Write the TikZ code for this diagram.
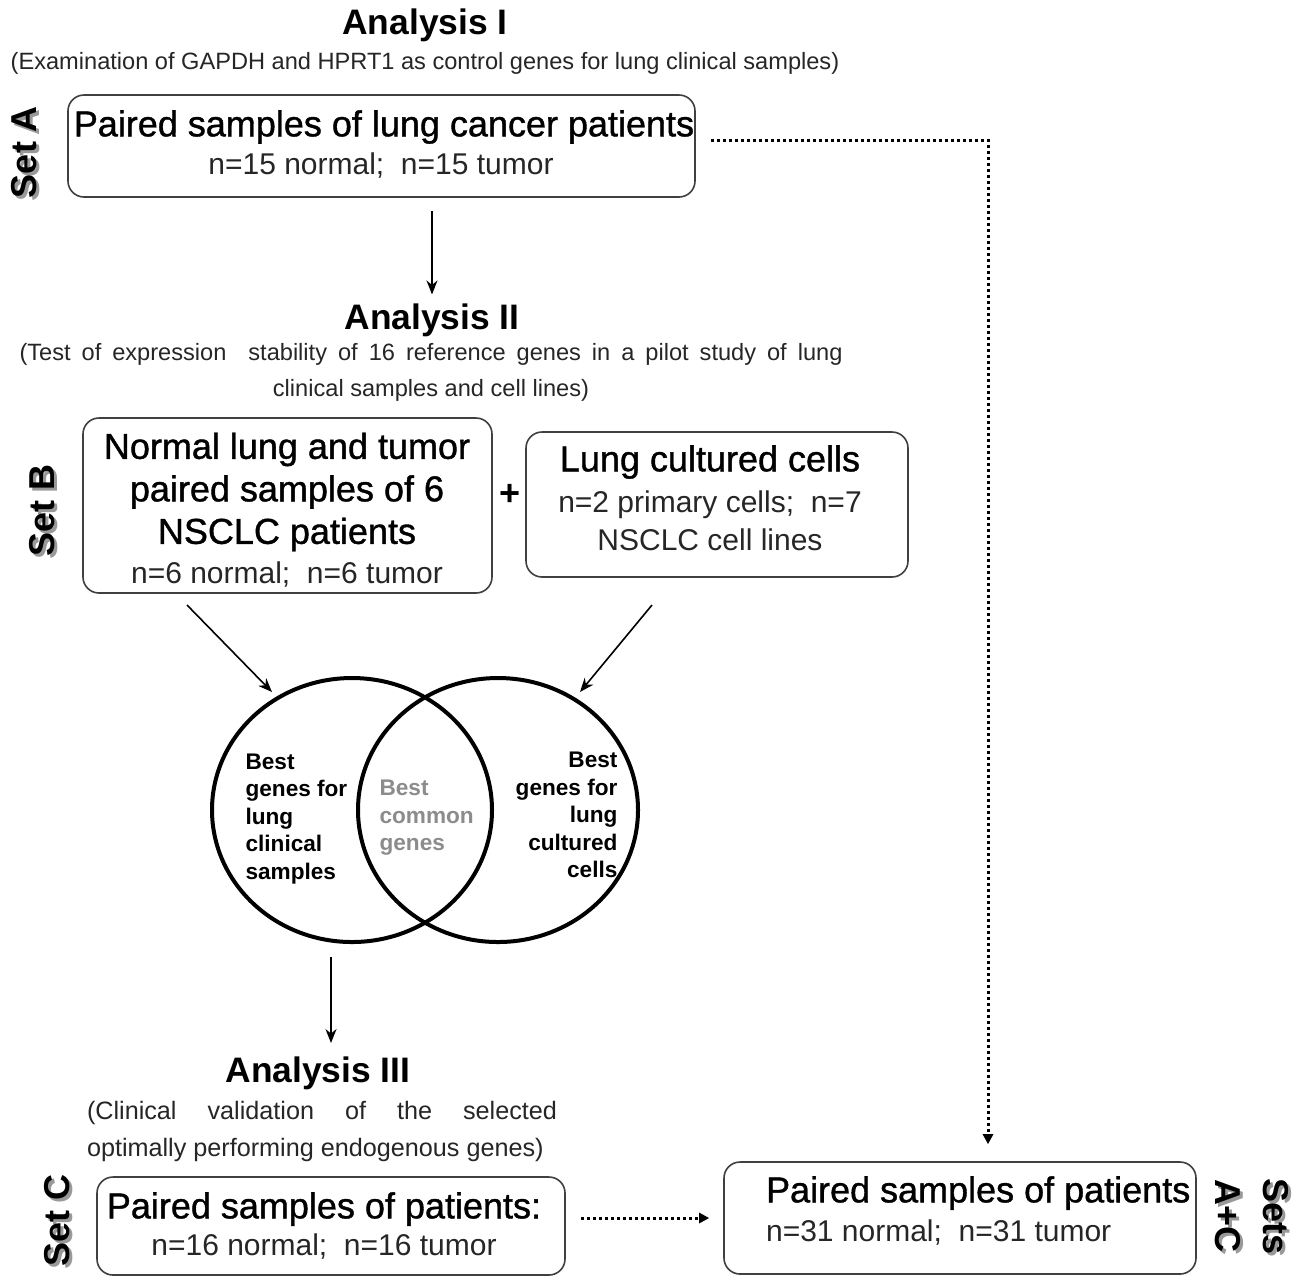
\documentclass[tikz,border=0pt]{standalone}
\usepackage{fontspec}
\setmainfont{Liberation Sans}
\newfontfamily\medfont[FakeBold=1.1]{Liberation Sans}
\usetikzlibrary{shapes.geometric,arrows.meta,positioning}

\tikzset{
  box/.style={draw=black!75, line width=0.8pt, rounded corners=8pt},
  anl/.style={font=\fontsize{17.7}{20}\selectfont\bfseries},
  expl/.style={font=\fontsize{11.8}{18}\selectfont, text=black!85},
  big/.style={font=\fontsize{18}{21.25}\selectfont\medfont, align=center},
  num/.style={font=\fontsize{15}{19}\selectfont, text=black!85, align=center},
  venn/.style={draw, ellipse, line width=2pt, minimum width=140pt, minimum height=132pt},
  vtxt/.style={font=\fontsize{11.3}{13.75}\selectfont\bfseries},
  setlbl/.style={font=\fontsize{18}{24}\selectfont\bfseries, rotate=90, align=center},
  arr/.style={-{Stealth[length=7pt,width=5.5pt]}, line width=0.8pt},
  dots/.style={line width=1.5pt, dash pattern=on 1.5pt off 1.5pt, -{Triangle[length=5pt,width=5pt]}}
}

\begin{document}
\begin{tikzpicture}[x=0.5pt, y=-0.5pt]

  \useasboundingbox[fill=white] (0,0) rectangle (1304,1276);

  % Analysis I
  \node[anl]  (ana1)     at (425,25)  {Analysis I}; %
  \node[expl] (ana1-txt) at (425,63)  {(Examination of GAPDH and HPRT1 as control genes for lung clinical samples)}; %

  \node[box, minimum width=313.5pt, minimum height=51pt] (boxA) at (381.5,146) {}; %
  \node[big] (boxA-t) at (384,127) {Paired samples of lung cancer patients}; %
  \node[num] (boxA-n) at (381,166) {n=15 normal;\ \ n=15 tumor}; %

  % Analysis II
  \node[anl]  (ana2)     at (432,320) {Analysis II}; %
  \node[expl, align=center] (ana2-txt) at (431,372)
    {\makebox[411.5pt][s]{(Test of expression\ \ stability of 16 reference genes in a pilot study of lung}\\clinical samples and cell lines)}; %

  \node[box, minimum width=204.5pt, minimum height=87.5pt] (boxB1) at (287.5,505.5) {}; %
  \node[big] (boxB1-t) at (287,492) {Normal lung and tumor\\paired samples of 6\\NSCLC patients}; %
  \node[num] (boxB1-n) at (287,575) {n=6 normal;\ \ n=6 tumor}; %

  \node[font=\fontsize{18}{20}\selectfont\bfseries] (plus) at (510,495) {+}; %

  \node[box, minimum width=191pt, minimum height=72.5pt] (boxB2) at (717,504.5) {}; %
  \node[big] (boxB2-t) at (710,462) {Lung cultured cells}; %
  \node[num] (boxB2-n) at (710,521) {n=2 primary cells;\ \ n=7\\NSCLC cell lines}; %

  % Venn
  \node[venn] (vl) at (352,810) {}; %
  \node[venn] (vr) at (498,810) {}; %
  \node[vtxt, align=left, anchor=west]  (vl-t) at (238.5,819) {Best\\genes for\\lung\\clinical\\samples}; %
  \node[vtxt, align=left, anchor=west, text=black!45] (vc-t) at (372.5,818) {Best\\common\\genes}; %
  \node[vtxt, align=right, anchor=east] (vr-t) at (624.5,815) {Best\\genes for\\lung\\cultured\\cells}; %

  % Analysis III
  \node[anl]  (ana3)     at (318,1073) {Analysis III}; %
  \node[expl, font=\fontsize{12.6}{18.5}\selectfont, text width=235pt, align=justify] (ana3-txt) at (322,1131)
    {(Clinical validation of the selected\linebreak optimally performing endogenous genes)}; %

  \node[box, minimum width=234pt, minimum height=49pt] (boxC) at (331,1226) {}; %
  \node[big] (boxC-t) at (324,1209) {Paired samples of patients:}; %
  \node[num] (boxC-n) at (324,1247) {n=16 normal;\ \ n=16 tumor}; %

  \node[box, minimum width=236pt, minimum height=56pt] (boxAC) at (960,1218) {}; %
  \node[big, anchor=west] (boxAC-t) at (759,1193) {Paired samples of patients}; %
  \node[num, anchor=west] (boxAC-n) at (759,1233) {n=31 normal;\ \ n=31 tumor}; %

  % Sets
  \node[setlbl, text=black!40] (setA-s) at (27,155)  {Set A}; %
  \node[setlbl]                (setA)   at (24,152)  {Set A}; %
  \node[setlbl, text=black!40] (setB-s) at (45,513)  {Set B}; %
  \node[setlbl]                (setB)   at (42,510)  {Set B}; %
  \node[setlbl, text=black!40] (setC-s) at (60,1223) {Set C}; %
  \node[setlbl]                (setC)   at (57,1220) {Set C}; %
  \node[setlbl, rotate=180, text=black!40] (setAC-s) at (1255,1219) {Sets\\A+C}; %
  \node[setlbl, rotate=180]                (setAC)   at (1252,1216) {Sets\\A+C}; %

  % arrows
  \coordinate (b1o) at (187,605); %
  \coordinate (b1i) at (272,692); %
  \coordinate (b2o) at (652,605); %
  \coordinate (b2i) at (580,692); %
  \coordinate (v3o) at (331,957); %
  \coordinate (v3i) at (331,1043); %
  \coordinate (dA)  at (988,140); %
  \coordinate (dC)  at (640,1218); %

  \draw[arr, shorten <=6.5pt, shorten >=1pt] (ana2.north |- boxA.south) -- (ana2.north); %
  \draw[arr] (b1o) -- (b1i); %
  \draw[arr] (b2o) -- (b2i); %
  \draw[arr] (v3o) -- (v3i); %

  \draw[dots, shorten <=7.5pt, shorten >=8.5pt] (boxA.east |- dA) -- (dA) -- (dA |- boxAC.north); %
  \draw[dots, shorten <=7.5pt, shorten >=7pt] (boxC.east |- dC) -- (boxAC.west |- dC); %

\end{tikzpicture}
\end{document}
